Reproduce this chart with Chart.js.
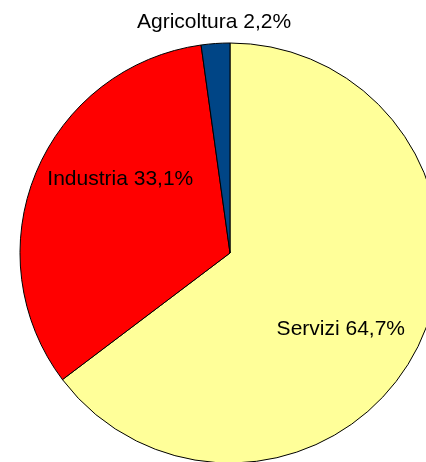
<!DOCTYPE html>
<html>
<head>
<meta charset="utf-8">
<script src="https://cdn.jsdelivr.net/npm/chart.js@4"></script>
<style>
  html, body { margin: 0; padding: 0; background: #fff; overflow: hidden; }
  #chart { display: block; }
</style>
</head>
<body>
<canvas id="chart" width="426" height="462"></canvas>
<script>
// Chart data
const sectors = ['Servizi', 'Industria', 'Agricoltura'];
const shares = [64.7, 33.1, 2.2];
const sectorColors = ['#FFFF99', '#FF0000', '#004586'];

// label placement: angle tweak (degrees) and fraction of the radius
const labelPlacement = [
    { turn: 8, dist: 0.64 },
    { turn: 11.5, dist: 0.63 },
    { turn: 0, dist: 1.1 }
];

const sliceLabels = {
    id: 'sliceLabels',
    afterDatasetsDraw(chart) {
        const ctx = chart.ctx;
        const arcs = chart.getDatasetMeta(0).data;
        ctx.save();
        ctx.fillStyle = '#000';
        ctx.font = '21px "Liberation Sans", Arial, sans-serif';
        ctx.textAlign = 'center';
        ctx.textBaseline = 'middle';
        arcs.forEach((arc, i) => {
            const p = arc.getProps(['x', 'y', 'startAngle', 'endAngle', 'outerRadius'], true);
            const mid = (p.startAngle + p.endAngle) / 2 + labelPlacement[i].turn * Math.PI / 180;
            const r = p.outerRadius * labelPlacement[i].dist;
            const text = sectors[i] + ' ' + shares[i].toFixed(1).replace('.', ',') + '%';
            ctx.fillText(text, p.x + r * Math.cos(mid), p.y + r * Math.sin(mid));
        });
        ctx.restore();
    }
};

new Chart(document.getElementById('chart'), {
    type: 'pie',
    data: {
        labels: sectors,
        datasets: [{
            data: shares,
            backgroundColor: sectorColors,
            borderColor: '#000',
            borderWidth: 1,
            clip: false
        }]
    },
    options: {
        responsive: false,
        animation: false,
        radius: 210,
        layout: { padding: { left: 34, right: 0, top: 44, bottom: 0 } },
        plugins: {
            legend: { display: false },
            tooltip: { enabled: false }
        }
    },
    plugins: [sliceLabels]
});
</script>
</body>
</html>
